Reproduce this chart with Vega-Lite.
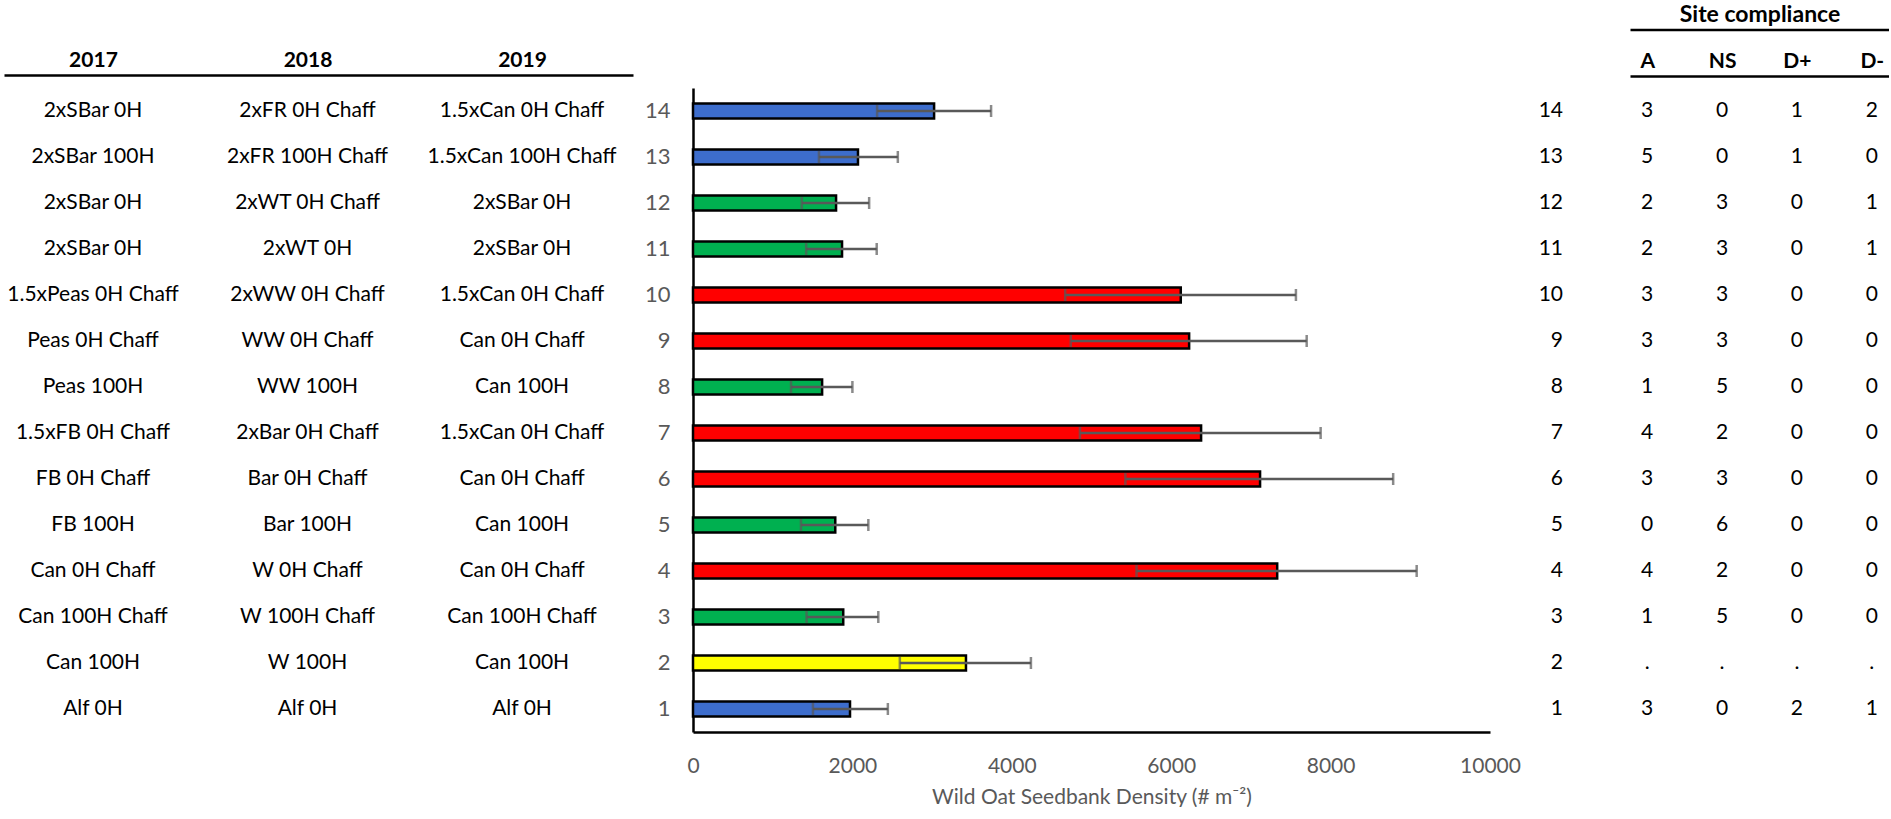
{
  "$schema": "https://vega.github.io/schema/vega-lite/v6.json",
  "padding": {"left": 4, "top": 3, "right": 0, "bottom": 0},
  "bounds": "flush",
  "spacing": 60,
  "config": {
    "view": {"stroke": null},
    "font": "Lato",
    "text": {"font": "Lato"},
    "axis": {"labelFont": "Lato", "titleFont": "Lato"}
  },
  "datasets": {
    "trt": [
      {"trt": 14, "2017": "2xSBar 0H", "2018": "2xFR 0H Chaff", "2019": "1.5xCan 0H Chaff", "density": 3025, "lo": 2310, "hi": 3740, "class": "Baseline", "A": 3, "NS": 0, "D+": 1, "D-": 2},
      {"trt": 13, "2017": "2xSBar 100H", "2018": "2xFR 100H Chaff", "2019": "1.5xCan 100H Chaff", "density": 2070, "lo": 1580, "hi": 2570, "class": "Baseline", "A": 5, "NS": 0, "D+": 1, "D-": 0},
      {"trt": 12, "2017": "2xSBar 0H", "2018": "2xWT 0H Chaff", "2019": "2xSBar 0H", "density": 1795, "lo": 1365, "hi": 2210, "class": "Low", "A": 2, "NS": 3, "D+": 0, "D-": 1},
      {"trt": 11, "2017": "2xSBar 0H", "2018": "2xWT 0H", "2019": "2xSBar 0H", "density": 1870, "lo": 1420, "hi": 2305, "class": "Low", "A": 2, "NS": 3, "D+": 0, "D-": 1},
      {"trt": 10, "2017": "1.5xPeas 0H Chaff", "2018": "2xWW 0H Chaff", "2019": "1.5xCan 0H Chaff", "density": 6120, "lo": 4670, "hi": 7565, "class": "High", "A": 3, "NS": 3, "D+": 0, "D-": 0},
      {"trt": 9, "2017": "Peas 0H Chaff", "2018": "WW 0H Chaff", "2019": "Can 0H Chaff", "density": 6225, "lo": 4740, "hi": 7700, "class": "High", "A": 3, "NS": 3, "D+": 0, "D-": 0},
      {"trt": 8, "2017": "Peas 100H", "2018": "WW 100H", "2019": "Can 100H", "density": 1620, "lo": 1230, "hi": 2000, "class": "Low", "A": 1, "NS": 5, "D+": 0, "D-": 0},
      {"trt": 7, "2017": "1.5xFB 0H Chaff", "2018": "2xBar 0H Chaff", "2019": "1.5xCan 0H Chaff", "density": 6375, "lo": 4855, "hi": 7875, "class": "High", "A": 4, "NS": 2, "D+": 0, "D-": 0},
      {"trt": 6, "2017": "FB 0H Chaff", "2018": "Bar 0H Chaff", "2019": "Can 0H Chaff", "density": 7115, "lo": 5425, "hi": 8785, "class": "High", "A": 3, "NS": 3, "D+": 0, "D-": 0},
      {"trt": 5, "2017": "FB 100H", "2018": "Bar 100H", "2019": "Can 100H", "density": 1785, "lo": 1355, "hi": 2200, "class": "Low", "A": 0, "NS": 6, "D+": 0, "D-": 0},
      {"trt": 4, "2017": "Can 0H Chaff", "2018": "W 0H Chaff", "2019": "Can 0H Chaff", "density": 7330, "lo": 5565, "hi": 9080, "class": "High", "A": 4, "NS": 2, "D+": 0, "D-": 0},
      {"trt": 3, "2017": "Can 100H Chaff", "2018": "W 100H Chaff", "2019": "Can 100H Chaff", "density": 1885, "lo": 1425, "hi": 2325, "class": "Low", "A": 1, "NS": 5, "D+": 0, "D-": 0},
      {"trt": 2, "2017": "Can 100H", "2018": "W 100H", "2019": "Can 100H", "density": 3425, "lo": 2595, "hi": 4240, "class": "Standard", "A": ".", "NS": ".", "D+": ".", "D-": "."},
      {"trt": 1, "2017": "Alf 0H", "2018": "Alf 0H", "2019": "Alf 0H", "density": 1970, "lo": 1505, "hi": 2445, "class": "Baseline", "A": 3, "NS": 0, "D+": 2, "D-": 1}
    ]
  },
  "data": {"name": "trt"},
  "hconcat": [
    {
      "width": 629,
      "height": 644,
      "transform": [{"fold": ["2017", "2018", "2019"], "as": ["year", "label"]}],
      "mark": {"type": "text", "fontSize": 21, "color": "black"},
      "encoding": {
        "x": {
          "field": "year", "type": "nominal",
          "scale": {"type": "point", "domain": ["2017", "2018", "2019"], "padding": 0.466, "align": 0.445},
          "axis": {"orient": "top", "title": null, "ticks": false, "tickSize": 0, "labelPadding": 4.5, "offset": 13,
                   "domainColor": "black", "domainWidth": 2.5, "labelFontSize": 21, "labelFontWeight": "bold",
                   "labelColor": "black", "labelAngle": 0}
        },
        "y": {"field": "trt", "type": "ordinal", "sort": "descending", "axis": null},
        "text": {"field": "label"}
      }
    },
    {
      "width": 797,
      "height": 644,
      "encoding": {
        "y": {
          "field": "trt", "type": "ordinal", "sort": "descending",
          "axis": {"orient": "left", "title": null, "ticks": false, "tickSize": 0, "labelPadding": 23,
                   "domainColor": "black", "domainWidth": 2.5, "labelColor": "#595959", "labelFontSize": 22}
        }
      },
      "layer": [
        {
          "mark": {"type": "bar", "size": 15, "stroke": "black", "strokeWidth": 2.5},
          "encoding": {
            "x": {
              "field": "density", "type": "quantitative", "title": "Wild Oat Seedbank Density (# m⁻²)",
              "scale": {"domain": [0, 10000], "nice": false, "zero": true},
              "axis": {"values": [0, 2000, 4000, 6000, 8000, 10000], "format": "d", "grid": false, "ticks": false,
                       "tickSize": 0, "labelPadding": 23, "labelFlush": false, "domainColor": "black", "domainWidth": 2.5,
                       "labelColor": "#595959", "labelFontSize": 21, "titleColor": "#595959", "titleFontSize": 21,
                       "titleFontWeight": "normal", "titlePadding": 10}
            },
            "color": {
              "field": "class", "type": "nominal", "legend": null,
              "scale": {"domain": ["Baseline", "Standard", "Low", "High"], "range": ["#3D6DCC", "#FFFF00", "#00B050", "#FF0000"]}
            }
          }
        },
        {
          "mark": {"type": "rule", "color": "#595959", "strokeWidth": 2.5},
          "encoding": {
            "x": {"field": "lo", "type": "quantitative", "title": "Wild Oat Seedbank Density (# m⁻²)"},
            "x2": {"field": "hi"}
          }
        },
        {
          "mark": {"type": "tick", "color": "#595959", "thickness": 2.5, "size": 12},
          "encoding": {"x": {"field": "lo", "type": "quantitative", "title": "Wild Oat Seedbank Density (# m⁻²)"}}
        },
        {
          "mark": {"type": "tick", "color": "#595959", "thickness": 2.5, "size": 12},
          "encoding": {"x": {"field": "hi", "type": "quantitative", "title": "Wild Oat Seedbank Density (# m⁻²)"}}
        }
      ]
    },
    {
      "width": 20,
      "height": 644,
      "mark": {"type": "text", "fontSize": 21, "color": "black", "align": "right", "dx": 3},
      "encoding": {
        "y": {"field": "trt", "type": "ordinal", "sort": "descending", "axis": null},
        "text": {"field": "trt"}
      }
    },
    {
      "width": 259,
      "height": 644,
      "transform": [{"fold": ["A", "NS", "D+", "D-"], "as": ["col", "val"]}],
      "encoding": {
        "y": {"field": "trt", "type": "ordinal", "sort": "descending", "axis": null},
        "text": {"field": "val"}
      },
      "layer": [
        {
          "mark": {"type": "text", "fontSize": 21, "color": "black"},
          "encoding": {
            "x": {
              "field": "col", "type": "nominal",
              "scale": {"type": "point", "domain": ["A", "NS", "D+", "D-"], "padding": 0.23},
              "axis": {"orient": "top", "title": null, "ticks": false, "tickSize": 0, "labelPadding": 4.5, "offset": 12,
                       "domainColor": "black", "domainWidth": 2.5, "labelFontSize": 21, "labelFontWeight": "bold",
                       "labelColor": "black", "labelAngle": 0}
            }
          }
        },
        {
          "mark": {"type": "text", "fontSize": 21, "opacity": 0},
          "encoding": {
            "x": {
              "field": "col", "type": "nominal",
              "axis": {"orient": "top", "title": "Site compliance", "labels": false, "ticks": false, "tickSize": 0,
                       "offset": 58.5, "domainColor": "black", "domainWidth": 2.5, "titleFontSize": 23,
                       "titleFontWeight": "bold", "titleColor": "black", "titlePadding": 3}
            }
          }
        }
      ],
      "resolve": {"axis": {"x": "independent"}}
    }
  ]
}
